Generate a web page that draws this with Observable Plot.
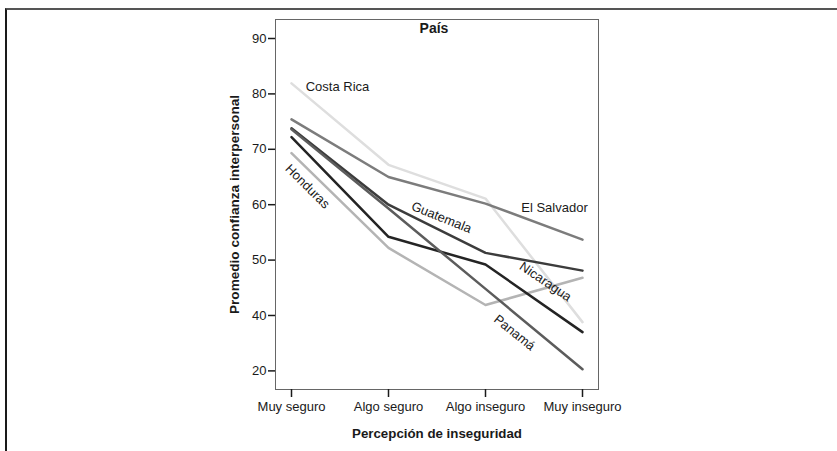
<!DOCTYPE html>
<html>
<head>
<meta charset="utf-8">
<script src="https://cdn.jsdelivr.net/npm/d3@7"></script>
<script src="https://cdn.jsdelivr.net/npm/@observablehq/plot@0.6"></script>
<style>
  html, body { margin: 0; padding: 0; background: #fff; }
  #wrap { position: relative; width: 837px; height: 451px; overflow: hidden; }
  #wrap svg { position: absolute; left: 0; top: 0; }
  #border { position: absolute; left: 5px; top: 8px; width: 832px; height: 443px;
    border-top: 2px solid #555; border-left: 2px solid #1a1a1a; box-sizing: border-box; pointer-events: none; }
</style>
</head>
<body>
<div id="wrap"><div id="border"></div></div>
<script>
// Categories (x axis)
const categories = ["Muy seguro", "Algo seguro", "Algo inseguro", "Muy inseguro"];
// Series
const countries = ["Costa Rica", "El Salvador", "Guatemala", "Honduras", "Nicaragua", "Panamá"];
const costaRica  = [81.9, 67.2, 61.1, 38.8];
const elSalvador = [75.4, 65.0, 60.2, 53.7];
const guatemala  = [73.8, 60.0, 51.3, 48.1];
const honduras   = [69.3, 52.2, 41.9, 46.8];
const nicaragua  = [72.2, 54.2, 49.2, 37.0];
const panama     = [73.6, 59.3, 44.8, 30.3];
// Y ticks (as printed in the original)
const yTickValues = [30, 40, 50, 60, 70, 80, 90];
const yTickLabels = ["20", "40", "50", "60", "70", "80", "90"];
// Label anchors
const labelNames = ["Costa Rica", "El Salvador", "Guatemala", "Nicaragua", "Panamá", "Honduras"];
const labelCats  = ["Muy seguro", "Muy inseguro", "Algo seguro", "Algo inseguro", "Algo inseguro", "Muy seguro"];
const labelVals  = [81.3, 59.5, 57.7, 46.1, 36.9, 63.3];

const colors = ["#dedede", "#7c7c7c", "#3c3c3c", "#b4b4b4", "#242424", "#5c5c5c"];
const labelStyle = [
  {dx: 46, rotate: 0}, {dx: -28, rotate: 0}, {dx: 53, rotate: 22},
  {dx: 60, rotate: 34}, {dx: 29, rotate: 39}, {dx: 16, rotate: 45}
];

const seriesValues = [costaRica, elSalvador, guatemala, honduras, nicaragua, panama];
const rows = [];
countries.forEach((c, i) => categories.forEach((cat, j) => rows.push({country: c, cat, value: seriesValues[i][j]})));
const labels = labelNames.map((n, i) => ({name: n, cat: labelCats[i], value: labelVals[i], ...labelStyle[i]}));

const W = 837, H = 451;
const chart = Plot.plot({
  width: W, height: H,
  marginLeft: 275, marginRight: 239, marginTop: 19, marginBottom: 62,
  style: {fontFamily: "'Liberation Sans', Arial, sans-serif", fontSize: "13px", color: "#1a1a1a", background: "transparent"},
  x: {type: "point", domain: categories, padding: 0.16, axis: null},
  y: {domain: [26.64, 93.43], axis: null},
  color: {domain: countries, range: colors},
  marks: [
    Plot.frame({stroke: "#666", strokeWidth: 1}),
    Plot.axisX({tickSize: 8, tickPadding: 4, label: null, fontSize: 13, strokeWidth: 1.5}),
    Plot.axisY({ticks: yTickValues, tickFormat: d => yTickLabels[yTickValues.indexOf(d)], tickSize: 7, tickPadding: 2, label: null, fontSize: 13, strokeWidth: 1.5}),
    Plot.line(rows, {x: "cat", y: "value", z: "country", stroke: "country", strokeWidth: 2.5}),
    ...labels.map(l => Plot.text([l], {x: "cat", y: "value", text: "name", dx: l.dx, rotate: l.rotate, fontSize: 13, fill: "#1a1a1a"})),
    Plot.text(["País"], {frameAnchor: "top", dy: 4, dx: -3, fontWeight: "bold", fontSize: 14}),
    Plot.text(["Promedio confianza interpersonal"], {frameAnchor: "left", textAnchor: "middle", lineAnchor: "middle", dx: -41, rotate: -90, fontWeight: "bold", fontSize: 13.6}),
    Plot.text(["Percepción de inseguridad"], {frameAnchor: "bottom", lineAnchor: "middle", dy: 44, fontWeight: "bold", fontSize: 13.3})
  ]
});
document.getElementById("wrap").insertBefore(chart, document.getElementById("border"));
</script>
</body>
</html>
